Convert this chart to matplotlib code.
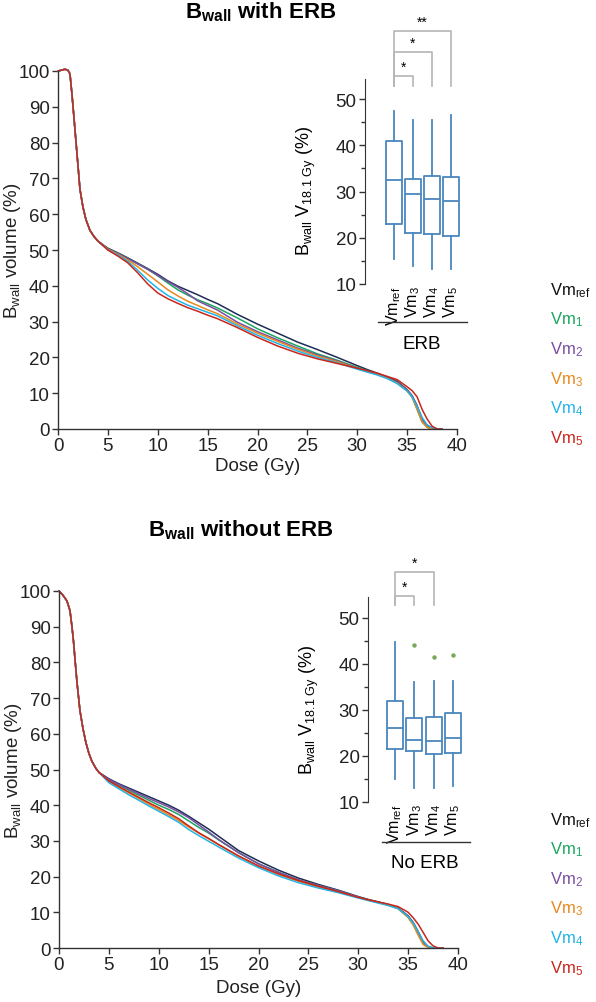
import matplotlib
matplotlib.use("Agg")
import matplotlib.pyplot as plt

plt.rcParams['font.family'] = ['Liberation Sans', 'DejaVu Sans']
plt.rcParams['mathtext.fontset'] = 'custom'
plt.rcParams['mathtext.rm'] = 'Liberation Sans'
plt.rcParams['mathtext.it'] = 'Liberation Sans:italic'
plt.rcParams['mathtext.bf'] = 'Liberation Sans:bold'
plt.rcParams['mathtext.sf'] = 'Liberation Sans'
plt.rcParams['mathtext.default'] = 'rm'

# ---- data ----
series_names = ['Vm$_{ref}$', 'Vm$_{1}$', 'Vm$_{2}$', 'Vm$_{3}$', 'Vm$_{4}$', 'Vm$_{5}$']
line_colors = ['#1f2d55', '#1aa660', '#7b4ea3', '#e8891c', '#22b4e8', '#c9261c']
legend_colors = ['#111111', '#1aa660', '#7b4ea3', '#e8891c', '#22b4e8', '#c9261c']

# steep common part of the curves
top_head_dose = [0, 0.3, 0.7, 1.0, 1.2, 1.4, 1.6, 1.9, 2.2, 2.5, 2.8, 3.2, 3.6, 4.0]
top_head_vol = [100, 100.2, 100.5, 100.2, 99.2, 93.5, 87, 77, 67, 62, 58.5, 55.5, 53.8, 52.5]
bot_head_dose = [0, 0.4, 0.8, 1.1, 1.3, 1.45, 1.6, 1.8, 2.1, 2.4, 2.7, 3.0, 3.3, 3.7, 4.0]
bot_head_vol = [100, 98.8, 97.2, 94.5, 90, 86, 81, 74.5, 66.5, 61.5, 57.5, 54.5, 52.3, 50.3, 49.2]

tail_dose = [5, 6, 7, 8, 9, 10, 11, 12, 13, 14, 15, 16, 18, 20, 22, 24, 26, 28, 30, 31,
             32, 33, 34, 35, 35.5, 36, 36.5, 37, 37.5, 38, 38.5]

top_ref = [50.5, 49.2, 47.8, 46.3, 44.8, 43.2, 41.4, 39.9, 38.7, 37.5, 36.2, 35.0, 32.0, 29.3, 26.8,
           24.3, 22.2, 20.0, 17.7, 16.6, 15.6, 14.5, 13.3, 11.0, 9.3, 6.5, 2.8, 0.9, 0.2, 0, 0]
top_vm1 = [50.3, 49.0, 47.6, 46.1, 44.6, 42.8, 40.8, 38.9, 37.4, 36.1, 35.0, 33.8, 31.0, 28.0, 25.5,
           23.2, 21.0, 19.2, 17.2, 16.3, 15.4, 14.3, 13.0, 10.8, 9.0, 5.5, 2.0, 0.5, 0, 0, 0]
top_vm2 = [50.3, 49.0, 47.6, 46.1, 44.6, 42.9, 41.2, 39.6, 37.8, 35.8, 34.5, 33.2, 29.8, 27.2, 24.9,
           22.6, 20.7, 19.0, 17.0, 16.2, 15.3, 14.3, 13.0, 10.8, 9.2, 6.2, 2.8, 0.9, 0.2, 0, 0]
top_vm3 = [50.2, 48.8, 47.2, 45.3, 43.2, 41.1, 38.9, 37.2, 35.7, 34.5, 33.3, 32.2, 29.3, 26.8, 24.5,
           22.3, 20.4, 18.8, 16.9, 16.0, 15.2, 14.2, 12.8, 10.6, 8.8, 5.5, 2.0, 0.5, 0, 0, 0]
top_vm4 = [50.0, 48.6, 46.8, 44.3, 41.6, 39.3, 37.3, 35.9, 34.6, 33.6, 32.6, 31.6, 28.8, 26.2, 23.9,
           21.8, 20.0, 18.5, 16.7, 15.9, 15.1, 14.1, 12.7, 10.6, 9.0, 6.3, 3.2, 1.2, 0.4, 0.1, 0]
top_vm5 = [50.0, 48.3, 46.4, 43.6, 40.5, 38.0, 36.4, 35.1, 33.9, 32.9, 31.8, 30.8, 28.3, 25.6, 23.2,
           21.2, 19.6, 18.3, 17.0, 16.3, 15.6, 14.7, 13.8, 11.8, 10.7, 9.0, 5.5, 2.8, 0.8, 0, 0]

bot_ref = [47.4, 46.0, 44.8, 43.6, 42.4, 41.2, 40.0, 38.6, 36.9, 35.1, 33.3, 31.3, 27.3, 24.4, 21.8,
           19.6, 17.8, 16.2, 14.4, 13.6, 12.9, 12.2, 11.2, 9.0, 7.2, 4.6, 1.8, 0.3, 0, 0, 0]
bot_vm1 = [47.0, 45.6, 44.2, 42.8, 41.4, 40.0, 38.8, 37.4, 35.6, 33.8, 32.2, 30.3, 26.7, 23.6, 21.2,
           19.1, 17.5, 16.0, 14.3, 13.5, 12.8, 12.1, 11.1, 8.8, 7.0, 4.4, 1.6, 0.3, 0, 0, 0]
bot_vm2 = [47.2, 45.8, 44.5, 43.2, 41.9, 40.7, 39.5, 38.1, 36.5, 34.5, 32.5, 30.4, 26.7, 23.6, 21.2,
           19.1, 17.5, 16.0, 14.3, 13.5, 12.8, 12.1, 11.1, 8.8, 7.0, 4.4, 1.6, 0.3, 0, 0, 0]
bot_vm3 = [46.7, 45.0, 43.4, 41.9, 40.3, 38.8, 37.3, 35.7, 33.9, 32.2, 30.6, 28.9, 25.7, 22.9, 20.6,
           18.7, 17.1, 15.7, 14.1, 13.4, 12.7, 12.0, 11.0, 8.5, 6.5, 3.6, 1.0, 0.1, 0, 0, 0]
bot_vm4 = [46.3, 44.6, 42.9, 41.4, 39.8, 38.3, 36.8, 35.2, 33.2, 31.5, 29.9, 28.3, 25.2, 22.5, 20.2,
           18.3, 16.8, 15.5, 14.0, 13.3, 12.6, 11.9, 11.0, 8.8, 7.0, 4.6, 2.0, 0.5, 0.1, 0, 0]
bot_vm5 = [46.8, 45.2, 43.7, 42.2, 40.7, 39.3, 37.8, 36.2, 34.2, 32.3, 30.7, 29.0, 25.8, 23.0, 20.8,
           18.9, 17.3, 15.8, 14.2, 13.5, 12.9, 12.3, 11.6, 10.0, 8.5, 6.7, 4.4, 2.0, 0.6, 0, 0]

# box plot stats: whisker low, q1, median, q3, whisker high, outliers
box_labels = ['Vm$_{ref}$', 'Vm$_{3}$', 'Vm$_{4}$', 'Vm$_{5}$']
erb_whislo = [15.5, 14.0, 13.3, 13.2]
erb_q1 = [23.0, 21.0, 20.8, 20.3]
erb_med = [32.5, 29.5, 28.4, 28.0]
erb_q3 = [41.0, 32.7, 33.4, 33.2]
erb_whishi = [47.5, 45.5, 45.5, 46.5]
erb_fliers = [[], [], [], []]
erb_sig = [(1, 2, '*'), (1, 3, '*'), (1, 4, '**')]
erb_sig_top = [55.0, 60.2, 64.7]

noerb_whislo = [15.0, 13.0, 13.0, 13.5]
noerb_q1 = [21.5, 21.0, 20.5, 20.7]
noerb_med = [26.0, 23.5, 23.2, 23.8]
noerb_q3 = [32.0, 28.3, 28.5, 29.3]
noerb_whishi = [44.7, 36.0, 36.3, 36.3]
noerb_fliers = [[], [44.2], [41.6], [42.0]]
noerb_sig = [(1, 2, '*'), (1, 3, '*')]
noerb_sig_top = [54.8, 60.0]

W, H = 596, 1003
fig = plt.figure(figsize=(W / 100, H / 100), dpi=100)

def px(l, t, r, b):
    return [l / W, 1 - b / H, (r - l) / W, (b - t) / H]

def style(ax):
    for s in ['top', 'right']:
        ax.spines[s].set_visible(False)
    for s in ['left', 'bottom']:
        ax.spines[s].set_color('#333333')
        ax.spines[s].set_linewidth(1.0)
    ax.tick_params(direction='out', length=4, width=1, color='#333333',
                   labelsize=13.5, labelcolor='#222222', pad=2)

def dvh(rect, title, title_xy, vols, xlabelpad):
    ax = fig.add_axes(px(*rect))
    head_d, head_v, tails = vols
    for tail, c in zip(tails, line_colors):
        ax.plot(head_d + tail_dose, head_v + tail, color=c, lw=1.1, clip_on=False)
    ax.set_xlim(0, 40)
    ax.set_ylim(0, 100)
    ax.set_xticks(range(0, 41, 5))
    ax.set_yticks(range(0, 101, 10))
    style(ax)
    ax.set_xlabel('Dose (Gy)', fontsize=13.5, labelpad=xlabelpad, color='#222222')
    ax.set_ylabel('B$_{wall}$ volume (%)', fontsize=13.5, color='#222222')
    ax.yaxis.set_label_coords(-0.088, 0.5)
    fig.text(title_xy[0] / W, 1 - title_xy[1] / H, title, fontsize=16,
             fontweight='bold', ha='center', va='baseline')
    return ax

dvh((58, 72, 457, 430), r'$\mathbf{B_{wall}}$ with ERB', (261, 18),
    (top_head_dose, top_head_vol, [top_ref, top_vm1, top_vm2, top_vm3, top_vm4, top_vm5]), 2)
dvh((59, 592, 458, 949), r'$\mathbf{B_{wall}}$ without ERB', (241, 536),
    (bot_head_dose, bot_head_vol, [bot_ref, bot_vm1, bot_vm2, bot_vm3, bot_vm4, bot_vm5]), 4)

def inset(rect, xlim, stats, sig, sig_top, spine_top, group, line_y, group_y, line_x):
    ax = fig.add_axes(px(*rect))
    lo, q1, med, q3, hi, fl = stats
    bs = [dict(whislo=a, q1=b, med=c, q3=d, whishi=e, fliers=f)
          for a, b, c, d, e, f in zip(lo, q1, med, q3, hi, fl)]
    blue = '#4a87bd'
    ax.bxp(bs, positions=[1, 2, 3, 4], widths=0.82, showcaps=False,
           boxprops=dict(color=blue, lw=1.3),
           whiskerprops=dict(color=blue, lw=1.3),
           medianprops=dict(color=blue, lw=1.3),
           flierprops=dict(marker='o', markersize=3.2, markerfacecolor='#78a95a',
                           markeredgecolor='none'))
    ax.set_xlim(*xlim)
    ax.set_ylim(10, 68)
    for s in ['top', 'right', 'bottom']:
        ax.spines[s].set_visible(False)
    ax.spines['left'].set_bounds(10, spine_top)
    ax.spines['left'].set_color('#333333')
    ax.set_yticks(range(10, 51, 10))
    ax.set_yticks(range(15, 50, 10), minor=True)
    ax.tick_params(axis='y', direction='out', length=4, width=1, color='#333333',
                   labelsize=13.5, labelcolor='#222222', pad=2)
    ax.tick_params(axis='y', which='minor', length=3, width=1, color='#333333')
    ax.set_xticks([1, 2, 3, 4])
    ax.set_xticklabels(box_labels, rotation=90, fontsize=11.5, va='top', ha='center')
    ax.tick_params(axis='x', length=0, pad=1)
    ax.set_ylabel('B$_{wall}$ V$_{18.1\\ Gy}$ (%)', fontsize=13)
    ax.yaxis.set_label_coords(-0.45, 0.35)
    for (a, b, star), top in zip(sig, sig_top):
        ax.plot([a, a, b, b], [52.8, top, top, 52.8], color='#b5b5b5', lw=1.2, clip_on=False)
        ax.text((a + b) / 2, top + 2.0, star, ha='center', va='center', fontsize=10)
    ax.plot(line_x, [line_y, line_y], transform=ax.transAxes, color='#333333', lw=1.0,
            clip_on=False)
    ax.text(0.545, group_y, group, transform=ax.transAxes, ha='center', va='center',
            fontsize=13.5)
    return ax

inset((365, 17, 470, 285), (-0.526, 5.0),
      (erb_whislo, erb_q1, erb_med, erb_q3, erb_whishi, erb_fliers),
      erb_sig, erb_sig_top, 54.3, 'ERB', -0.142, -0.222, [0.124, 0.971])
inset((368, 536, 473, 803), (-0.4, 5.04),
      (noerb_whislo, noerb_q1, noerb_med, noerb_q3, noerb_whishi, noerb_fliers),
      noerb_sig, noerb_sig_top, 54.6, 'No ERB', -0.15, -0.227, [0.133, 0.971])

# legends as coloured text
for y0 in [290, 820]:
    for i, (name, c) in enumerate(zip(series_names, legend_colors)):
        fig.text(550 / W, 1 - (y0 + 5 + i * 29.6) / H, name, color=c, fontsize=12,
                 ha='left', va='baseline')

fig.savefig('out.png', dpi=100)
